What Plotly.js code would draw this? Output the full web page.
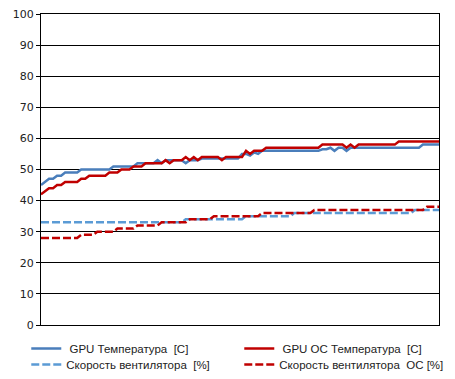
<!DOCTYPE html>
<html>
<head>
<meta charset="utf-8">
<script src="https://cdn.plot.ly/plotly-3.0.1.min.js"></script>
<style>html,body{margin:0;padding:0;background:#fff;}#chart{width:455px;height:379px;}</style>
</head>
<body>
<div id="chart"></div>
<script>
// Sample index (time steps)
var samples = [];
for (var k = 0; k < 100; k++) samples.push(k);

var seriesNames = ["\u00a0GPU Температура  [C]", "\u00a0GPU OC Температура  [C]", "Скорость вентилятора  [%]", "Скорость вентилятора  OC [%]"];

var gpuTemp = [
  45,46,47,47,48,48,49,49,49,49,
  50,50,50,50,50,50,50,50,51,51,
  51,51,51,51,52,52,52,52,52,53,
  52,53,53,53,53,53,52,53,53,53,
  53.5,53.5,53.5,53.5,53.5,53.5,53.5,53.5,53.5,53.5,
  55,55,54.5,55.5,55,56,56,56,56,56,
  56,56,56,56,56,56,56,56,56,56,
  56.5,56.5,57,56,57,57,56,57,57,57,
  57,57,57,57,57,57,57,57,57,57,
  57,57,57,57,57,58,58,58,58,58
];

var ocTemp = [
  42,43,44,44,45,45,46,46,46,46,
  47,47,48,48,48,48,48,49,49,49,
  50,50,50,51,51,51,52,52,52,52,
  52,53,52,53,53,53,54,53,54,53,
  54,54,54,54,54,53,54,54,54,54,
  54,56,55,56,56,56,57,57,57,57,
  57,57,57,57,57,57,57,57,57,57,
  58,58,58,58,58,58,57,58,57,58,
  58,58,58,58,58,58,58,58,58,59,
  59,59,59,59,59,59,59,59,59,59
];

var fanSpeed = [
  33,33,33,33,33,33,33,33,33,33,
  33,33,33,33,33,33,33,33,33,33,
  33,33,33,33,33,33,33,33,33,33,
  33,33,33,33,33,33,34,34,34,34,
  34,34,34,34,34,34,34,34,34,34,
  34,35,35,35,35,35,35,35,35,35,
  35,35,35,36,36,36,36,36,36,36,
  36,36,36,36,36,36,36,36,36,36,
  36,36,36,36,36,36,36,36,36,36,
  36,36,36,37,37,37,37,37,37,37
];

var ocFanSpeed = [
  28,28,28,28,28,28,28,28,28,28,
  29,29,29,29,30,30,30,30,30,31,
  31,31,31,31,32,32,32,32,32,32,
  33,33,33,33,33,33,33,34,34,34,
  34,34,34,35,35,35,35,35,35,35,
  35,35,35,35,35,36,36,36,36,36,
  36,36,36,36,36,36,36,36,37,37,
  37,37,37,37,37,37,37,37,37,37,
  37,37,37,37,37,37,37,37,37,37,
  37,37,37,37,37,37,38,38,38,38
];

var yTicks = [0,10,20,30,40,50,60,70,80,90,100];

var traces = [
  {x: samples, y: gpuTemp, name: seriesNames[0], type: 'scatter', mode: 'lines',
   legend: 'legend', line: {color: '#4a7ebb', width: 2.5}},
  {x: samples, y: ocTemp, name: seriesNames[1], type: 'scatter', mode: 'lines',
   legend: 'legend', line: {color: '#c00000', width: 2.5}},
  {x: samples, y: fanSpeed, name: seriesNames[2], type: 'scatter', mode: 'lines',
   legend: 'legend2', line: {color: '#5b9bd5', width: 2.5, dash: '8px,3px'}},
  {x: samples, y: ocFanSpeed, name: seriesNames[3], type: 'scatter', mode: 'lines',
   legend: 'legend2', line: {color: '#c00000', width: 2.5, dash: '8px,3px'}}
];

var legendFont = {family: 'Liberation Sans', size: 11.5, color: '#222'};

var layout = {
  width: 455, height: 379,
  margin: {l: 41, r: 16, t: 14, b: 54, pad: 0, autoexpand: false},
  paper_bgcolor: '#ffffff', plot_bgcolor: '#ffffff',
  showlegend: true,
  xaxis: {range: [0, 99], showgrid: false, zeroline: false, showticklabels: false,
          ticks: '', showline: true, mirror: true, linecolor: '#000', linewidth: 1, fixedrange: true},
  yaxis: {range: [0, 100], tickvals: yTicks, ticktext: yTicks.map(String),
          showgrid: true, gridcolor: '#000', gridwidth: 1, zeroline: false,
          showline: true, mirror: true, linecolor: '#000', linewidth: 1,
          ticks: 'outside', ticklen: 4, tickcolor: '#000', tickwidth: 1,
          tickfont: {family: 'DejaVu Sans', size: 11, color: '#222'}, fixedrange: true},
  legend: {orientation: 'h', x: -0.037, xanchor: 'left', y: -0.029, yanchor: 'top',
           entrywidth: 168, entrywidthmode: 'pixels', font: legendFont,
           bgcolor: 'rgba(0,0,0,0)'},
  legend2: {orientation: 'h', x: -0.037, xanchor: 'left', y: -0.080, yanchor: 'top',
           entrywidth: 168, entrywidthmode: 'pixels', font: legendFont,
           bgcolor: 'rgba(0,0,0,0)'}
};

Plotly.newPlot('chart', traces, layout, {displayModeBar: false, staticPlot: true});
</script>
</body>
</html>
